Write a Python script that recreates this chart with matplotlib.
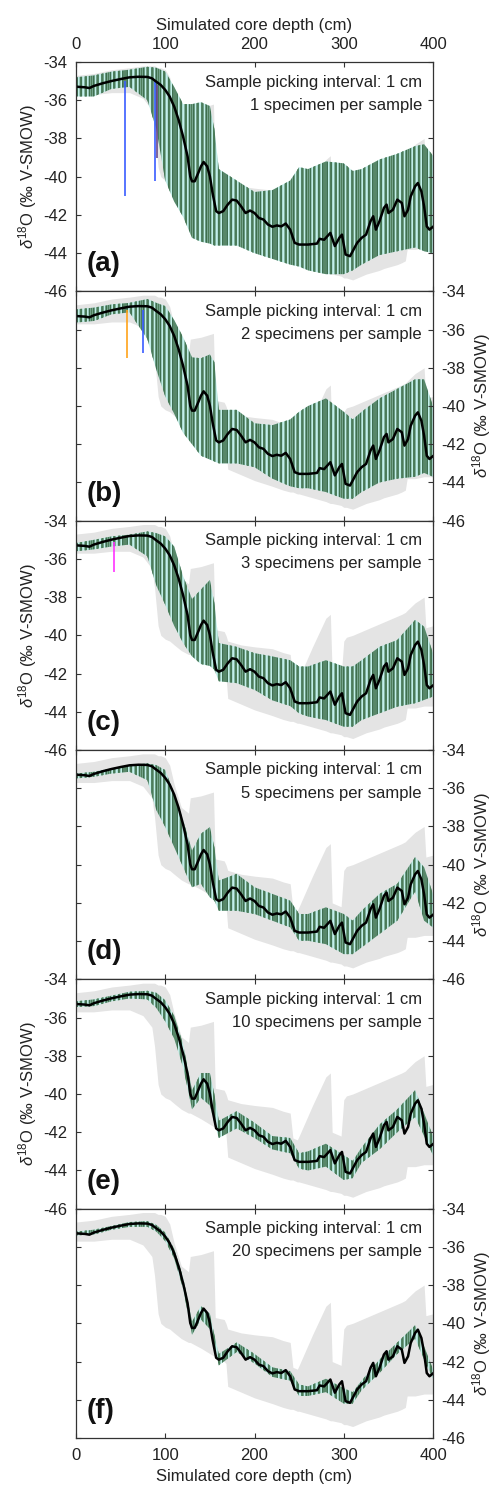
import numpy as np
import matplotlib
matplotlib.use('Agg')
import matplotlib.pyplot as plt

plt.rcParams['font.family'] = ['Liberation Sans', 'DejaVu Sans']
plt.rcParams['mathtext.fontset'] = 'custom'
plt.rcParams['mathtext.rm'] = 'Liberation Sans'
plt.rcParams['mathtext.it'] = 'Liberation Sans:italic'
plt.rcParams['axes.unicode_minus'] = False
plt.rcParams['hatch.linewidth'] = 1.3

# specimens per sample for each panel
specimens = [1, 2, 3, 5, 10, 20]
panel_letters = ['(a)', '(b)', '(c)', '(d)', '(e)', '(f)']

# mean record (black line)
depth_mean = [0, 10, 15, 20, 30, 40, 50, 60, 70, 80, 85, 90, 95, 100, 105, 110, 115, 120, 125, 128,
              130, 133, 137, 140, 143, 147, 150, 153, 157, 160, 165, 170, 175, 180, 185, 190, 195, 200, 205, 210,
              215, 220, 225, 230, 235, 240, 245, 250, 260, 270, 273, 278, 285, 290, 295, 298, 302, 307, 310, 315,
              320, 325, 330, 333, 336, 340, 345, 348, 350, 355, 360, 365, 368, 372, 375, 380, 383, 387, 390, 393,
              396, 400]
d18o_mean = [-35.29, -35.32, -35.36, -35.25, -35.11, -34.99, -34.89, -34.80, -34.77, -34.78,
             -34.85, -35.03, -35.2, -35.46, -35.81, -36.33, -37.03, -37.9, -38.94, -39.98,
             -40.24, -40.24, -39.8, -39.46, -39.23, -39.46, -39.98, -40.85, -41.8, -41.9,
             -41.8, -41.46, -41.2, -41.25, -41.55, -41.9, -41.77, -41.9, -42.16, -42.24,
             -42.5, -42.62, -42.55, -42.6, -42.45, -42.77, -43.46, -43.55, -43.55, -43.5,
             -43.25, -43.3, -42.94, -43.63, -43.2, -43.03, -44.07, -44.16, -43.9, -43.46,
             -43.2, -43.03, -42.33, -42.07, -42.77, -42.33, -41.63, -41.46, -41.9, -41.73,
             -41.2, -41.37, -42.07, -41.73, -41.03, -40.5, -40.33, -40.77, -41.55, -42.6,
             -42.77, -42.62]

# grey envelope (possible range of the record)
env_depth = [0, 20, 40, 60, 75, 80, 85, 88, 92, 95, 100, 105, 110, 118, 126, 128, 140, 154, 156, 166,
             168, 170, 185, 200, 220, 232, 240, 243, 248, 250, 265, 280, 285, 287, 297, 300, 303, 310, 320, 325,
             340, 345, 360, 365, 369, 371, 380, 390, 392, 400]
env_lo = [-35.7, -35.7, -35.6, -35.6, -35.9, -36.2, -36.5, -37.5, -39.5, -40.0, -40.2, -40.3, -40.5, -40.8, -41.0,
          -41.0, -41.3, -41.7, -41.7, -42.0, -42.1, -43.3, -43.6, -43.9, -44.2, -44.4, -44.5, -44.5, -44.6, -44.6,
          -44.8, -45.0, -45.1, -45.1, -45.2, -45.3, -45.3, -45.4, -45.2, -45.1, -44.9, -44.8, -44.6, -44.5, -44.4,
          -43.8, -43.8, -43.7, -43.7, -43.7]
env_hi = [-34.7, -34.6, -34.4, -34.3, -34.2, -34.2, -34.2, -34.2, -34.3, -34.3, -34.4, -34.8, -35.8, -37.0, -37.3,
          -36.5, -36.4, -36.2, -39.7, -39.8, -40.0, -40.3, -40.5, -40.6, -40.7, -40.9, -41.0, -42.3, -42.4, -42.2,
          -40.6, -39.1, -38.9, -42.0, -42.2, -40.3, -40.1, -40.0, -39.8, -39.7, -39.4, -39.3, -39.0, -38.9, -38.8,
          -38.7, -38.3, -38.0, -39.6, -39.5]

# extent of the simulated records (coloured lines) in each panel
band_depth = [0, 20, 40, 60, 80, 90, 100, 110, 120, 130, 140, 150, 155, 160, 180, 200, 220, 240, 250, 260,
              280, 300, 310, 320, 340, 360, 380, 390, 400]
band_hi_a = [-34.8, -34.7, -34.5, -34.4, -34.25, -34.3, -34.5, -35.3, -36.2, -36.2, -36.1, -36.3, -37.5, -39.6,
             -40.2, -40.8, -40.7, -40.2, -39.5, -39.6, -39.2, -39.3, -39.7, -39.6, -39.1, -38.8, -38.4, -38.3, -38.9]
band_lo_a = [-35.8, -35.8, -35.4, -35.3, -36.0, -37.5, -40.2, -41.3, -42.1, -43.2, -43.4, -43.5, -43.6, -43.6,
             -43.6, -44.0, -44.3, -44.6, -44.7, -44.9, -45.1, -45.1, -44.9, -44.6, -44.1, -43.9, -43.7, -43.9, -44.0]
band_hi_b = [-34.94, -34.85, -34.68, -34.6, -34.4, -34.6, -34.77, -35.5, -36.4, -37.45, -37.5, -37.3, -37.7, -40.2,
             -40.2, -40.9, -41.0, -40.7, -40.3, -40.0, -39.6, -40.3, -40.7, -40.3, -39.6, -39.1, -38.6, -38.6, -40.0]
band_lo_b = [-35.63, -35.55, -35.2, -35.1, -36.5, -38.1, -39.5, -40.4, -41.4, -42.0, -42.6, -42.8, -42.9, -43.0,
             -43.0, -43.2, -43.8, -44.2, -44.3, -44.3, -44.5, -44.85, -44.85, -44.5, -44.0, -43.8, -43.7, -43.5, -43.7]
band_hi_c = [-35.17, -35.0, -34.82, -34.73, -34.56, -34.65, -34.82, -35.35, -36.9, -38.1, -37.6, -37.1, -38.3, -40.4,
             -40.6, -40.93, -41.1, -41.3, -41.63, -41.63, -41.3, -41.63, -41.63, -41.3, -40.6, -40.24, -39.19, -39.54,
             -40.93]
band_lo_c = [-35.6, -35.5, -35.35, -35.25, -35.87, -37.4, -38.4, -39.5, -40.4, -41.1, -41.5, -41.6, -41.8, -42.4,
             -42.5, -42.85, -43.4, -43.7, -44.08, -44.25, -44.43, -44.78, -44.78, -44.43, -44.08, -43.73, -43.55,
             -43.38, -43.2]
band_hi_d = [-35.23, -35.14, -34.96, -34.79, -34.7, -34.79, -35.05, -36.28, -37.68, -39.26, -38.38, -38.03, -39.08,
             -40.83, -40.48, -41.18, -41.53, -41.88, -42.58, -42.58, -42.23, -42.58, -42.93, -42.41, -41.53, -41.0,
             -39.6, -40.13, -41.53]
band_lo_d = [-35.49, -35.4, -35.23, -35.14, -35.58, -37.15, -38.03, -39.08, -40.13, -41.18, -41.0, -41.71, -41.88,
             -42.41, -42.41, -42.58, -42.93, -43.28, -43.98, -43.98, -44.16, -44.68, -44.68, -44.33, -43.63, -42.93,
             -41.4, -42.93, -43.28]
band_hi_e = [-35.15, -35.05, -34.85, -34.65, -34.6, -34.7, -35.1, -35.9, -37.4, -39.8, -38.9, -38.9, -40.0, -41.4,
             -40.9, -41.5, -42.2, -42.3, -43.1, -43.0, -42.6, -43.2, -43.5, -42.8, -41.6, -40.8, -39.8, -41.0, -42.2]
band_lo_e = [-35.45, -35.4, -35.15, -35.0, -35.05, -35.5, -36.2, -37.1, -38.6, -40.8, -40.2, -40.6, -41.5, -42.3,
             -41.8, -42.3, -42.9, -43.1, -43.9, -44.0, -43.8, -44.5, -44.4, -43.6, -42.9, -42.0, -41.2, -42.2, -43.2]
band_hi_f = [-35.2, -35.1, -34.9, -34.7, -34.65, -34.85, -35.25, -36.1, -37.6, -39.9, -39.1, -39.5, -40.6, -41.6,
             -41.0, -41.6, -42.3, -42.5, -43.2, -43.3, -42.9, -43.4, -43.6, -43.0, -41.9, -41.0, -40.1, -41.2, -42.4]
band_lo_f = [-35.4, -35.35, -35.1, -34.95, -34.95, -35.2, -35.7, -36.6, -38.2, -40.6, -39.8, -40.3, -41.2, -42.2,
             -41.5, -42.1, -42.8, -43.0, -43.8, -43.8, -43.6, -44.2, -44.2, -43.5, -42.6, -41.6, -40.8, -41.9, -42.9]

band_hi = [band_hi_a, band_hi_b, band_hi_c, band_hi_d, band_hi_e, band_hi_f]
band_lo = [band_lo_a, band_lo_b, band_lo_c, band_lo_d, band_lo_e, band_lo_f]

# a few long single spikes that stick out of the bands
spike_panel = [0, 0, 0, 1, 1, 2]
spike_depth = [55, 88, 91, 57, 75, 43]
spike_top = [-35.0, -35.0, -35.2, -35.0, -35.0, -35.1]
spike_bottom = [-41.0, -40.2, -39.0, -37.5, -37.2, -36.7]
spike_color = ['#3a5cff', '#3a5cff', '#6a4a8a', '#ffa31a', '#3a5cff', '#ff33ff']

yticks = [-46, -44, -42, -40, -38, -36, -34]
xticks = [0, 100, 200, 300, 400]

fig = plt.figure(figsize=(5.01, 14.88), dpi=100)
axes = fig.subplots(6, 1)
fig.subplots_adjust(left=0.1517, right=0.8643, top=0.9583, bottom=0.0336, hspace=0)

ylabel = r'$\delta^{18}$O (‰ V-SMOW)'
txt_col = '#222222'
fs = 12

for i, ax in enumerate(axes):
    ax.fill_between(env_depth, env_lo, env_hi, color='#e4e4e4', linewidth=0)
    # simulated records: pale fill with two overlapping stroke patterns
    ax.fill_between(band_depth, band_lo[i], band_hi[i], facecolor='#c2efea', linewidth=0)
    ax.fill_between(band_depth, band_lo[i], band_hi[i], facecolor='none',
                    edgecolor='#3e6f4f', hatch='||||', linewidth=0)
    ax.fill_between(band_depth, band_lo[i], band_hi[i], facecolor='none',
                    edgecolor='#4d7d5a', hatch='|||', linewidth=0)
    for p, d, t, b, c in zip(spike_panel, spike_depth, spike_top, spike_bottom, spike_color):
        if p == i:
            ax.vlines(d, b, t, color=c, linewidth=1.2)
    ax.plot(depth_mean, d18o_mean, color='k', linewidth=1.8)

    ax.set_xlim(0, 400)
    ax.set_ylim(-46, -34)
    ax.set_xticks(xticks)
    ax.set_yticks(yticks)
    ax.set_yticklabels([str(v) for v in yticks])
    ax.tick_params(direction='in', length=3.5, width=0.8, colors='#333333', labelcolor=txt_col,
                   labelsize=fs, top=True, bottom=True, left=True, right=True,
                   labeltop=(i == 0), labelbottom=(i == 5),
                   labelleft=(i % 2 == 0), labelright=(i % 2 == 1))
    ax.tick_params(axis='x', pad=7.5)
    ax.tick_params(axis='y', pad=6)
    for s in ax.spines.values():
        s.set_color('#333333')
        s.set_linewidth(0.9)

    if i % 2 == 1:
        ax.yaxis.set_label_position('right')
    ax.set_ylabel(ylabel, fontsize=fs, color=txt_col, labelpad=3)

    ax.text(0.969, 0.913, 'Sample picking interval: 1 cm', transform=ax.transAxes,
            ha='right', va='center', fontsize=fs, color=txt_col)
    word = 'specimen' if specimens[i] == 1 else 'specimens'
    ax.text(0.969, 0.812, f'{specimens[i]} {word} per sample', transform=ax.transAxes,
            ha='right', va='center', fontsize=fs, color=txt_col)
    ax.text(0.03, 0.118, panel_letters[i], transform=ax.transAxes,
            ha='left', va='center', fontsize=20, fontweight='bold', color='#111111')

axes[0].xaxis.set_label_position('top')
axes[0].set_xlabel('Simulated core depth (cm)', fontsize=fs, color=txt_col, labelpad=5)
axes[5].set_xlabel('Simulated core depth (cm)', fontsize=fs, color=txt_col, labelpad=4)

fig.savefig('out.png', dpi=100)
